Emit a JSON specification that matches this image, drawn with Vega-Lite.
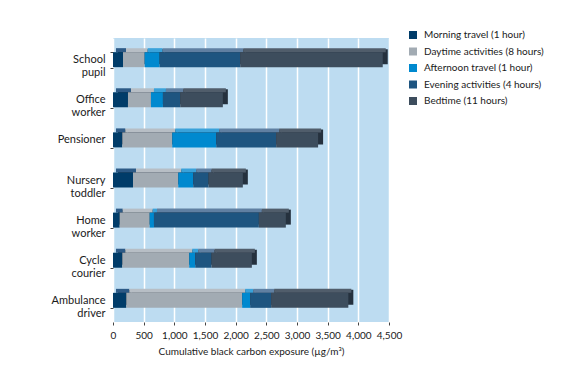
{
  "$schema": "https://vega.github.io/schema/vega-lite/v6.json",
  "width": 276,
  "height": 284,
  "autosize": "none",
  "padding": {"left": 113, "top": 38, "right": 185, "bottom": 44},
  "background": "white",
  "config": {"font": "Lato", "view": {"fill": "#bddcf1", "stroke": null}},
  "data": {"values": [
    {"person": "School pupil", "series": "Morning travel (1 hour)", "k": 1, "value": 163},
    {"person": "School pupil", "series": "Daytime activities (8 hours)", "k": 2, "value": 353},
    {"person": "School pupil", "series": "Afternoon travel (1 hour)", "k": 3, "value": 244},
    {"person": "School pupil", "series": "Evening activities (4 hours)", "k": 4, "value": 1314},
    {"person": "School pupil", "series": "Bedtime (11 hours)", "k": 5, "value": 2324},
    {"person": "Office worker", "series": "Morning travel (1 hour)", "k": 1, "value": 244},
    {"person": "Office worker", "series": "Daytime activities (8 hours)", "k": 2, "value": 375},
    {"person": "Office worker", "series": "Afternoon travel (1 hour)", "k": 3, "value": 195},
    {"person": "Office worker", "series": "Evening activities (4 hours)", "k": 4, "value": 282},
    {"person": "Office worker", "series": "Bedtime (11 hours)", "k": 5, "value": 695},
    {"person": "Pensioner", "series": "Morning travel (1 hour)", "k": 1, "value": 152},
    {"person": "Pensioner", "series": "Daytime activities (8 hours)", "k": 2, "value": 814},
    {"person": "Pensioner", "series": "Afternoon travel (1 hour)", "k": 3, "value": 717},
    {"person": "Pensioner", "series": "Evening activities (4 hours)", "k": 4, "value": 977},
    {"person": "Pensioner", "series": "Bedtime (11 hours)", "k": 5, "value": 684},
    {"person": "Nursery toddler", "series": "Morning travel (1 hour)", "k": 1, "value": 326},
    {"person": "Nursery toddler", "series": "Daytime activities (8 hours)", "k": 2, "value": 738},
    {"person": "Nursery toddler", "series": "Afternoon travel (1 hour)", "k": 3, "value": 244},
    {"person": "Nursery toddler", "series": "Evening activities (4 hours)", "k": 4, "value": 249},
    {"person": "Nursery toddler", "series": "Bedtime (11 hours)", "k": 5, "value": 560},
    {"person": "Home worker", "series": "Morning travel (1 hour)", "k": 1, "value": 109},
    {"person": "Home worker", "series": "Daytime activities (8 hours)", "k": 2, "value": 489},
    {"person": "Home worker", "series": "Afternoon travel (1 hour)", "k": 3, "value": 70},
    {"person": "Home worker", "series": "Evening activities (4 hours)", "k": 4, "value": 1710},
    {"person": "Home worker", "series": "Bedtime (11 hours)", "k": 5, "value": 440},
    {"person": "Cycle courier", "series": "Morning travel (1 hour)", "k": 1, "value": 152},
    {"person": "Cycle courier", "series": "Daytime activities (8 hours)", "k": 2, "value": 1091},
    {"person": "Cycle courier", "series": "Afternoon travel (1 hour)", "k": 3, "value": 98},
    {"person": "Cycle courier", "series": "Evening activities (4 hours)", "k": 4, "value": 265},
    {"person": "Cycle courier", "series": "Bedtime (11 hours)", "k": 5, "value": 658},
    {"person": "Ambulance driver", "series": "Morning travel (1 hour)", "k": 1, "value": 217},
    {"person": "Ambulance driver", "series": "Daytime activities (8 hours)", "k": 2, "value": 1889},
    {"person": "Ambulance driver", "series": "Afternoon travel (1 hour)", "k": 3, "value": 130},
    {"person": "Ambulance driver", "series": "Evening activities (4 hours)", "k": 4, "value": 342},
    {"person": "Ambulance driver", "series": "Bedtime (11 hours)", "k": 5, "value": 1259}
  ]},
  "encoding": {
    "y": {
      "field": "person", "type": "nominal", "sort": null, "title": null,
      "scale": {"paddingInner": 0.6, "paddingOuter": 0.34},
      "axis": {
        "labelExpr": "split(datum.label, ' ')",
        "domain": false, "ticks": true, "tickBand": "extent", "tickSize": 3,
        "tickColor": "#444", "labelFontSize": 11, "labelColor": "#1a1a1a",
        "labelPadding": 5, "labelLineHeight": 13, "grid": false
      }
    },
    "x": {
      "field": "value", "type": "quantitative", "stack": "zero",
      "scale": {"domain": [0, 4500], "nice": false},
      "axis": {
        "values": [0, 500, 1000, 1500, 2000, 2500, 3000, 3500, 4000, 4500],
        "format": ",d", "labelOverlap": false, "labelFlush": false, "grid": true, "gridColor": "white", "gridWidth": 1.5,
        "domain": false, "tickSize": 3, "tickColor": "#444",
        "labelFontSize": 10, "labelColor": "#1a1a1a", "labelPadding": 5,
        "title": "Cumulative black carbon exposure (µg/m³)",
        "titleFontSize": 10, "titleFontWeight": "normal", "titleColor": "#1a1a1a",
        "titlePadding": 6
      }
    },
    "order": {"field": "k", "type": "quantitative"}
  },
  "layer": [
    {
      "mark": {"type": "bar", "size": 15, "xOffset": 5, "x2Offset": 5, "yOffset": -3, "color": "#25313e"},
      "encoding": {"detail": {"field": "series"}}
    },
    {
      "mark": {"type": "bar", "size": 4, "xOffset": 3, "x2Offset": 3, "yOffset": -9.5},
      "encoding": {
        "color": {
          "field": "series", "type": "nominal", "legend": null,
          "scale": {
            "domain": ["Morning travel (1 hour)", "Daytime activities (8 hours)", "Afternoon travel (1 hour)", "Evening activities (4 hours)", "Bedtime (11 hours)"],
            "range": ["#2d5a86", "#b7bec5", "#3aa2da", "#6080a2", "#505d6b"]
          }
        }
      }
    },
    {
      "mark": {"type": "bar", "size": 15},
      "encoding": {
        "color": {
          "field": "series", "type": "nominal",
          "scale": {
            "domain": ["Morning travel (1 hour)", "Daytime activities (8 hours)", "Afternoon travel (1 hour)", "Evening activities (4 hours)", "Bedtime (11 hours)"],
            "range": ["#003c69", "#a2abb3", "#0089cf", "#1e5580", "#3d4d5d"]
          },
          "legend": {
            "title": null, "orient": "none", "legendX": 295, "legendY": -8,
            "symbolType": "square", "symbolSize": 64, "symbolStrokeWidth": 0,
            "labelFontSize": 10, "rowPadding": 6.5, "labelColor": "#1a1a1a", "labelOffset": 6
          }
        }
      }
    }
  ],
  "resolve": {"scale": {"color": "independent"}}
}
